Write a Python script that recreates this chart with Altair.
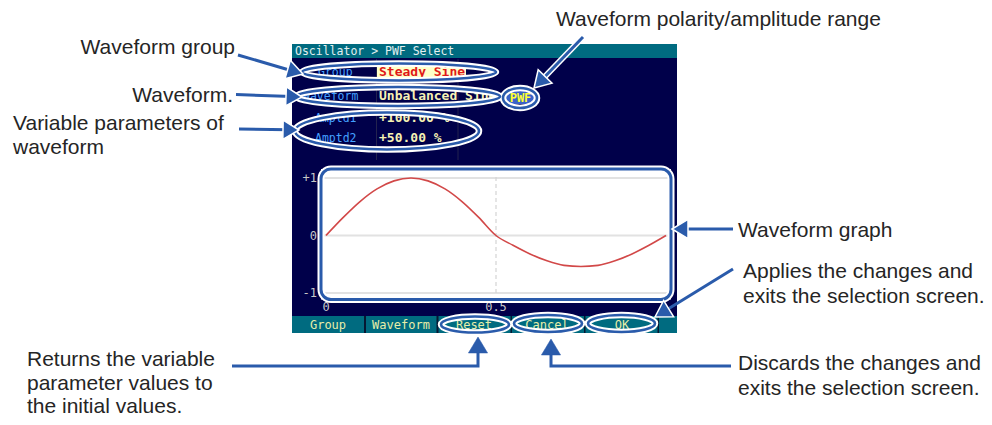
import math
import altair as alt
import pandas as pd

# ---------------- values ----------------
wave_t = [0.00, 0.05, 0.10, 0.15, 0.20, 0.25, 0.30, 0.35, 0.40, 0.45, 0.50,
          0.55, 0.60, 0.65, 0.70, 0.75, 0.80, 0.85, 0.90, 0.95, 1.00]
wave_v = [0.00, 0.31, 0.59, 0.81, 0.95, 1.00, 0.95, 0.81, 0.59, 0.31, 0.00,
          -0.17, -0.32, -0.44, -0.52, -0.54, -0.52, -0.44, -0.32, -0.17, 0.00]
y_ticks = [1, 0, -1]
y_tick_labels = ["+1", "0", "-1"]
x_ticks = [0, 0.5]
x_tick_labels = ["0", "0.5"]

screen_title = "Oscillator > PWF Select"
field_names = ["Group", "Waveform", "Amptd1", "Amptd2"]
field_values = ["Steady Sine", "Unbalanced Sine", "+100.00 %", "+50.00 %"]
range_tag = "PWF"
soft_keys = ["Group", "Waveform", "Reset", "Cancel", "OK"]

callout_lines = [
    ["Waveform group"],
    ["Waveform."],
    ["Variable parameters of", "waveform"],
    ["Waveform polarity/amplitude range"],
    ["Waveform graph"],
    ["Applies the changes and", "exits the selection screen."],
    ["Discards the changes and", "exits the selection screen."],
    ["Returns the variable", "parameter values to", "the initial values."],
]

# ---------------- layout & style ----------------
OFF = 8  # page margin


def p(v):
    return v - OFF


W, H = 976, 409
NAVY = "#00004a"
TEAL = "#006b80"
BLUE = "#2a5bab"
INK = "#252525"
SANS = "Liberation Sans"
MONO = "DejaVu Sans Mono"

# callout anchors: x, first baseline, align, line step
callout_pos = [
    (235, 54, "right", 25),
    (233, 102, "right", 25),
    (13, 130, "left", 24),
    (556, 25.5, "left", 25),
    (738, 237, "left", 25),
    (743, 278, "left", 25),
    (738, 370, "left", 25),
    (27, 366, "left", 23.5),
]

# arrows: polyline, outlined head
arrows = [
    ([(238, 55), (303, 74)], True),
    ([(236, 94.5), (302, 97)], True),
    ([(239, 129), (299, 130)], True),
    ([(583, 37), (534, 88)], True),
    ([(733, 229), (672, 229)], True),
    ([(733, 269), (655, 317)], True),
    ([(731, 366), (551, 366), (551, 339)], False),
    ([(232, 366), (478, 366), (478, 337)], False),
]

# highlight ellipses: cx, cy, w, h (stroke centre line)
ellipses = [
    (399, 72, 194, 17),
    (398, 96.5, 204, 19),
    (520, 98, 34, 20),
    (387, 131, 184, 37),
    (475, 324.5, 68, 16),
    (548, 323.5, 68, 17),
    (621.5, 323.5, 67, 17),
]

rects = [
    (292, 44, 677, 333, NAVY),            # screen
    (292, 44, 677, 58, TEAL),             # title bar
    (376, 59, 377, 160, "#23234f"),       # column separators
    (457.5, 59, 458.5, 160, "#23234f"),
    (292, 316, 677, 333, TEAL),           # soft key bar
    (364, 316, 366, 333, "#061833"),
    (436.5, 316, 438.5, 333, "#061833"),
    (510.5, 316, 512, 333, "#061833"),
    (584, 316, 585.5, 333, "#061833"),
    (657.5, 316, 659, 333, "#061833"),
    (377, 66, 466, 80, "#ffffc8"),        # Steady Sine highlight
    (506, 91, 535, 104, "#3a62c8"),       # PWF highlight
    (321, 169, 671, 299.5, "#ffffff"),    # graph area
]

layers = []


def px_enc(xf="x", yf="y"):
    return dict(x=alt.X(f"{xf}:Q", scale=None, axis=None),
                y=alt.Y(f"{yf}:Q", scale=None, axis=None))


# rectangles
rdf = pd.DataFrame([dict(x=p(a), y=p(b), x2=p(c), y2=p(d), c=col)
                    for a, b, c, d, col in rects])
layers.append(alt.Chart(rdf).mark_rect().encode(
    x=alt.X("x:Q", scale=None, axis=None), x2="x2:Q",
    y=alt.Y("y:Q", scale=None, axis=None), y2="y2:Q",
    color=alt.Color("c:N", scale=None)))


# screen texts
def text_layer(rows, **kw):
    df = pd.DataFrame(rows)
    return alt.Chart(df).mark_text(**kw).encode(
        **px_enc(), text="s:N", color=alt.Color("c:N", scale=None))


label_pos = [(318, 76), (303, 99.5), (315, 122), (315, 142)]
rows_small = [dict(x=p(295), y=p(55), s=screen_title, c="#e2f0f0")]
for name, (lx, ly) in zip(field_names, label_pos):
    rows_small.append(dict(x=p(lx), y=p(ly), s=name, c="#44a0ff"))
layers.append(text_layer(rows_small, align="left", baseline="alphabetic",
                         font=MONO, fontSize=11.5))

value_colors = ["#e01818", "#f6f2b4", "#f6f2b4", "#f6f2b4"]
rows_val = [dict(x=p(379), y=p(ly), s=v, c=c)
            for v, (lx, ly), c in zip(field_values, label_pos, value_colors)]
layers.append(text_layer(rows_val, align="left", baseline="alphabetic",
                         font=MONO, fontSize=13, fontWeight="bold"))
layers.append(text_layer([dict(x=p(520.5), y=p(102), s=range_tag, c="#ffff30")],
                         align="center", baseline="alphabetic", font=MONO,
                         fontSize=12, fontWeight="bold"))

key_x = [328, 401, 474, 547, 622]
rows_keys = [dict(x=p(kx), y=p(328.5), s=k, c="#e8eea8") for k, kx in zip(soft_keys, key_x)]
layers.append(text_layer(rows_keys, align="center", baseline="alphabetic",
                         font=MONO, fontSize=12))

# waveform graph (through real scales)
xs = alt.Scale(domain=[0, 1], range=[p(326), p(666)], nice=False, zero=False)
ys = alt.Scale(domain=[-1, 1], range=[p(293), p(178)], nice=False, zero=False)

layers.append(alt.Chart(pd.DataFrame({"v": y_ticks})).mark_rule(
    color="#e2e2e2", strokeWidth=2).encode(
    y=alt.Y("v:Q", scale=ys, axis=None), x=alt.value(p(322)), x2=alt.value(p(669))))
layers.append(alt.Chart(pd.DataFrame({"t": x_ticks[1:]})).mark_rule(
    color="#d4d4d4", strokeWidth=1.2, strokeDash=[4, 3]).encode(
    x=alt.X("t:Q", scale=xs, axis=None), y=alt.value(p(177)), y2=alt.value(p(298))))
layers.append(alt.Chart(pd.DataFrame({"t": wave_t, "v": wave_v})).mark_line(
    color="#d24848", strokeWidth=1.6, interpolate="monotone").encode(
    x=alt.X("t:Q", scale=xs, axis=None), y=alt.Y("v:Q", scale=ys, axis=None)))
layers.append(alt.Chart(pd.DataFrame({"v": y_ticks, "lab": y_tick_labels})).mark_text(
    align="right", baseline="middle", font=MONO, fontSize=12, color="#c8c8c8").encode(
    y=alt.Y("v:Q", scale=ys, axis=None), x=alt.value(p(317)), text="lab:N"))
layers.append(alt.Chart(pd.DataFrame({"t": x_ticks, "lab": x_tick_labels})).mark_text(
    align="center", baseline="middle", font=MONO, fontSize=12, color="#c8c8c8").encode(
    x=alt.X("t:Q", scale=xs, axis=None), y=alt.value(p(307)), text="lab:N"))

# graph frame
fdf = pd.DataFrame([dict(x=p(321), y=p(169), x2=p(671), y2=p(299.5))])
for sc, sw in (("white", 7), (BLUE, 3)):
    layers.append(alt.Chart(fdf).mark_rect(
        cornerRadius=10, fillOpacity=0, stroke=sc, strokeWidth=sw).encode(
        x=alt.X("x:Q", scale=None, axis=None), x2="x2:Q",
        y=alt.Y("y:Q", scale=None, axis=None), y2="y2:Q"))


# highlight ellipses
def ellipse_path(r):
    k = 0.5523
    return (f"M -1 0 C -1 {-r*k:.4f} {-k:.4f} {-r:.4f} 0 {-r:.4f} "
            f"C {k:.4f} {-r:.4f} 1 {-r*k:.4f} 1 0 "
            f"C 1 {r*k:.4f} {k:.4f} {r:.4f} 0 {r:.4f} "
            f"C {-k:.4f} {r:.4f} -1 {r*k:.4f} -1 0 Z")


for sc, sw in (("white", 6.5), (BLUE, 2.6)):
    for cx, cy, w, h in ellipses:
        layers.append(alt.Chart(pd.DataFrame([dict(x=p(cx), y=p(cy))])).mark_point(
            shape=ellipse_path(h / w), size=w * w, filled=False, fillOpacity=0,
            stroke=sc, strokeWidth=sw, opacity=1).encode(**px_enc()))

# arrows
HEAD = "M 0 0 L -0.6 1 L 0.6 1 Z"
HEAD_LEN = 16
for pts, outlined in arrows:
    (ax, ay), (bx, by) = pts[-2], pts[-1]
    d = math.hypot(bx - ax, by - ay)
    ux, uy = (bx - ax) / d, (by - ay) / d
    line_pts = pts[:-1] + [(bx - ux * 10, by - uy * 10)]
    ldf = pd.DataFrame([dict(x=p(x), y=p(y), o=i) for i, (x, y) in enumerate(line_pts)])
    if outlined and pts[0][1] < 40:
        layers.append(alt.Chart(ldf).mark_line(color="white", strokeWidth=6).encode(
            **px_enc(), order="o:Q"))
    layers.append(alt.Chart(ldf).mark_line(color=BLUE, strokeWidth=3).encode(
        **px_enc(), order="o:Q"))
    ang = math.degrees(math.atan2(ux, -uy)) % 360
    layers.append(alt.Chart(pd.DataFrame([dict(x=p(bx), y=p(by))])).mark_point(
        shape=HEAD, size=(HEAD_LEN * 2) ** 2, angle=ang, filled=True, fill=BLUE,
        opacity=1, stroke="white" if outlined else BLUE,
        strokeWidth=1.5 if outlined else 0.5).encode(**px_enc()))

# callout texts
for align in ("left", "right"):
    rows = []
    for lines, (tx, ty, al, step) in zip(callout_lines, callout_pos):
        if al != align:
            continue
        for i, s in enumerate(lines):
            rows.append(dict(x=p(tx), y=p(ty + i * step), s=s))
    layers.append(alt.Chart(pd.DataFrame(rows)).mark_text(
        align=align, baseline="alphabetic", font=SANS, fontSize=21, color=INK).encode(
        **px_enc(), text="s:N"))

chart = alt.layer(*layers).resolve_scale(x="independent", y="independent").properties(
    width=W, height=H, padding=0,
    autosize=alt.AutoSizeParams(type="none"), background="white",
).configure_view(stroke=None)

chart.save("out.html", embed_options={"renderer": "svg", "actions": False})
